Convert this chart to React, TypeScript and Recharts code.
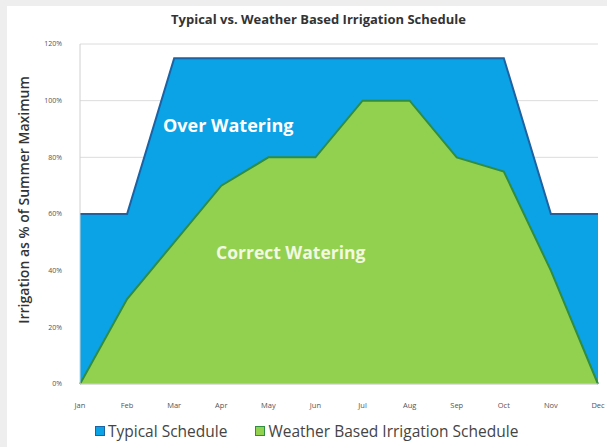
import React from 'react'
import { AreaChart, Area, XAxis, YAxis, CartesianGrid, Legend } from 'recharts'

const months = ['Jan', 'Feb', 'Mar', 'Apr', 'May', 'Jun', 'Jul', 'Aug', 'Sep', 'Oct', 'Nov', 'Dec']
const typicalSchedule = [60, 60, 115, 115, 115, 115, 115, 115, 115, 115, 60, 60]
const weatherBased = [0, 30, 50, 70, 80, 80, 100, 100, 80, 75, 40, 0]
const yTicks = [0, 20, 40, 60, 80, 100, 120]

const data = months.map((m, i) => ({
  month: m,
  typical: typicalSchedule[i],
  weather: weatherBased[i],
}))

const BLUE = '#0ba2e6'
const BLUE_EDGE = '#1d62a3'
const GREEN = '#92d050'
const GREEN_EDGE = '#2f8d40'
const FONT = '"Open Sans", "Noto Sans", sans-serif'

const legendItems = [
  { label: 'Typical Schedule', fill: BLUE, edge: BLUE_EDGE },
  { label: 'Weather Based Irrigation Schedule', fill: GREEN, edge: GREEN_EDGE },
]

function LegendContent() {
  return (
    <div style={{ display: 'flex', gap: 28, paddingLeft: 95, paddingTop: 8, fontFamily: FONT, fontSize: 15.5, color: '#444' }}>
      {legendItems.map((it) => (
        <div key={it.label} style={{ display: 'flex', alignItems: 'center', gap: 3 }}>
          <span style={{ width: 8, height: 8, background: it.fill, border: `1.5px solid ${it.edge}`, display: 'inline-block' }} />
          <span>{it.label}</span>
        </div>
      ))}
    </div>
  )
}

export default function App() {
  return (
    <div style={{ position: 'absolute', left: 0, top: 0, width: 607, height: 447, background: '#eeeeee' }}>
      <div style={{ position: 'absolute', left: 7, top: 6, width: 600, height: 441, background: '#ffffff' }} />
      <div
        style={{
          position: 'absolute', left: 0, top: 10, width: 607, textAlign: 'center', paddingLeft: 15,
          fontFamily: FONT, fontWeight: 700, fontSize: 13, color: '#333',
        }}
      >
        Typical vs. Weather Based Irrigation Schedule
      </div>
      <div style={{ position: 'absolute', left: 0, top: 0 }}>
        <AreaChart width={607} height={447} data={data} margin={{ top: 44, right: 9, left: 0, bottom: 0 }}>
          <CartesianGrid vertical={false} stroke="#dcdcdc" />
          <XAxis
            dataKey="month"
            height={28}
            tick={{ fontSize: 7.5, fill: '#555', fontFamily: FONT }}
            tickLine={false}
            axisLine={{ stroke: '#d0d0d0' }}
            tickMargin={13}
          />
          <YAxis
            width={80}
            domain={[0, 120]}
            ticks={yTicks}
            tickFormatter={(v: number) => `${v}%`}
            tick={{ fontSize: 7, fill: '#555', fontFamily: FONT }}
            tickLine={false}
            axisLine={{ stroke: '#d0d0d0' }}
            tickMargin={12}
            label={{
              value: 'Irrigation as % of Summer Maximum',
              angle: -90,
              position: 'insideLeft',
              offset: 24,
              dy: -14,
              style: { textAnchor: 'middle', fontSize: 14, fontWeight: 600, fill: '#333', fontFamily: FONT },
            }}
          />
          <Legend verticalAlign="bottom" wrapperStyle={{ height: 35 }} content={<LegendContent />} />
          <Area
            type="linear"
            dataKey="typical"
            name="Typical Schedule"
            stroke={BLUE_EDGE}
            strokeWidth={2}
            fill={BLUE}
            fillOpacity={1}
            isAnimationActive={false}
          />
          <Area
            type="linear"
            dataKey="weather"
            name="Weather Based Irrigation Schedule"
            stroke={GREEN_EDGE}
            strokeWidth={2}
            fill={GREEN}
            fillOpacity={1}
            isAnimationActive={false}
          />
        </AreaChart>
      </div>
      <div style={{ position: 'absolute', left: 163, top: 113, fontFamily: FONT, fontWeight: 700, fontSize: 18, color: '#ffffff' }}>
        Over Watering
      </div>
      <div style={{ position: 'absolute', left: 216, top: 240, fontFamily: FONT, fontWeight: 700, fontSize: 17.5, color: '#f3f9e0' }}>
        Correct Watering
      </div>
    </div>
  )
}
